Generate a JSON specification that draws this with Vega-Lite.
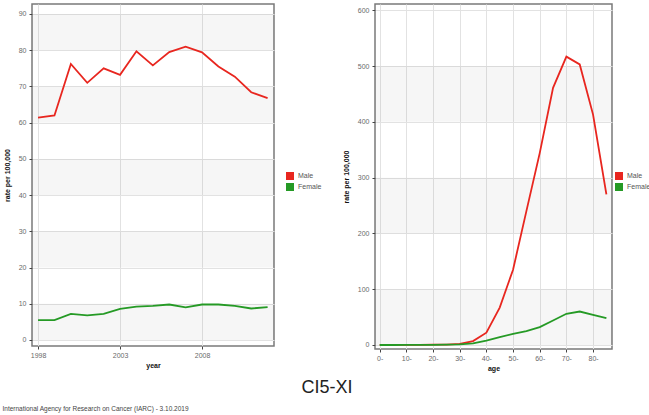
{
  "$schema": "https://vega.github.io/schema/vega-lite/v6.json",
  "padding": {"left": 2, "top": 3, "right": 0, "bottom": 0},
  "background": "white",
  "datasets": {
    "trend": [
      {"year": 1998, "sex": "Male", "rate": 61.4}, {"year": 1999, "sex": "Male", "rate": 62.0},
      {"year": 2000, "sex": "Male", "rate": 76.2}, {"year": 2001, "sex": "Male", "rate": 71.0},
      {"year": 2002, "sex": "Male", "rate": 75.0}, {"year": 2003, "sex": "Male", "rate": 73.2},
      {"year": 2004, "sex": "Male", "rate": 79.7}, {"year": 2005, "sex": "Male", "rate": 75.8},
      {"year": 2006, "sex": "Male", "rate": 79.5}, {"year": 2007, "sex": "Male", "rate": 81.0},
      {"year": 2008, "sex": "Male", "rate": 79.4}, {"year": 2009, "sex": "Male", "rate": 75.5},
      {"year": 2010, "sex": "Male", "rate": 72.7}, {"year": 2011, "sex": "Male", "rate": 68.4},
      {"year": 2012, "sex": "Male", "rate": 66.8},
      {"year": 1998, "sex": "Female", "rate": 5.5}, {"year": 1999, "sex": "Female", "rate": 5.5},
      {"year": 2000, "sex": "Female", "rate": 7.2}, {"year": 2001, "sex": "Female", "rate": 6.8},
      {"year": 2002, "sex": "Female", "rate": 7.2}, {"year": 2003, "sex": "Female", "rate": 8.6},
      {"year": 2004, "sex": "Female", "rate": 9.2}, {"year": 2005, "sex": "Female", "rate": 9.4},
      {"year": 2006, "sex": "Female", "rate": 9.8}, {"year": 2007, "sex": "Female", "rate": 9.0},
      {"year": 2008, "sex": "Female", "rate": 9.8}, {"year": 2009, "sex": "Female", "rate": 9.8},
      {"year": 2010, "sex": "Female", "rate": 9.4}, {"year": 2011, "sex": "Female", "rate": 8.7},
      {"year": 2012, "sex": "Female", "rate": 9.1}
    ],
    "byage": [
      {"age": 0, "sex": "Male", "rate": 0.1}, {"age": 5, "sex": "Male", "rate": 0.1},
      {"age": 10, "sex": "Male", "rate": 0.2}, {"age": 15, "sex": "Male", "rate": 0.3},
      {"age": 20, "sex": "Male", "rate": 0.5}, {"age": 25, "sex": "Male", "rate": 0.8},
      {"age": 30, "sex": "Male", "rate": 2}, {"age": 35, "sex": "Male", "rate": 7},
      {"age": 40, "sex": "Male", "rate": 22}, {"age": 45, "sex": "Male", "rate": 67},
      {"age": 50, "sex": "Male", "rate": 135}, {"age": 55, "sex": "Male", "rate": 240},
      {"age": 60, "sex": "Male", "rate": 344}, {"age": 65, "sex": "Male", "rate": 461},
      {"age": 70, "sex": "Male", "rate": 517}, {"age": 75, "sex": "Male", "rate": 503},
      {"age": 80, "sex": "Male", "rate": 413}, {"age": 85, "sex": "Male", "rate": 270},
      {"age": 0, "sex": "Female", "rate": 0}, {"age": 5, "sex": "Female", "rate": 0},
      {"age": 10, "sex": "Female", "rate": 0.1}, {"age": 15, "sex": "Female", "rate": 0.2},
      {"age": 20, "sex": "Female", "rate": 0.3}, {"age": 25, "sex": "Female", "rate": 0.5},
      {"age": 30, "sex": "Female", "rate": 1}, {"age": 35, "sex": "Female", "rate": 3},
      {"age": 40, "sex": "Female", "rate": 8}, {"age": 45, "sex": "Female", "rate": 14},
      {"age": 50, "sex": "Female", "rate": 20}, {"age": 55, "sex": "Female", "rate": 25},
      {"age": 60, "sex": "Female", "rate": 32}, {"age": 65, "sex": "Female", "rate": 44},
      {"age": 70, "sex": "Female", "rate": 56}, {"age": 75, "sex": "Female", "rate": 60},
      {"age": 80, "sex": "Female", "rate": 54}, {"age": 85, "sex": "Female", "rate": 48}
    ],
    "bandsL": [
      {"lo": 0, "hi": 10}, {"lo": 20, "hi": 30}, {"lo": 40, "hi": 50}, {"lo": 60, "hi": 70}, {"lo": 80, "hi": 90}
    ],
    "bandsR": [
      {"lo": 0, "hi": 100}, {"lo": 200, "hi": 300}, {"lo": 400, "hi": 500}
    ]
  },
  "title": {
    "text": "International Agency for Research on Cancer (IARC) - 3.10.2019",
    "orient": "bottom", "anchor": "start", "fontSize": 6.5, "fontWeight": "normal",
    "font": "Liberation Sans", "color": "#444", "offset": 9
  },
  "vconcat": [
    {
      "title": {
        "text": "CI5-XI", "orient": "bottom", "anchor": "middle", "fontSize": 18,
        "fontWeight": "normal", "font": "Liberation Sans", "color": "#222", "offset": 7
      },
      "hconcat": [
        {
          "width": 242, "height": 342,
          "layer": [
            {
              "data": {"name": "bandsL"},
              "mark": {"type": "rect", "fill": "#000", "fillOpacity": 0.035},
              "encoding": {
                "y": {"field": "lo", "type": "quantitative", "title": "rate per 100,000",
                      "scale": {"domain": [-1.66, 92.76], "nice": false, "zero": false},
                      "axis": {"values": [0, 10, 20, 30, 40, 50, 60, 70, 80, 90]}},
                "y2": {"field": "hi"}
              }
            },
            {
              "data": {"name": "trend"},
              "mark": {"type": "line", "strokeWidth": 1.8},
              "encoding": {
                "x": {"field": "year", "type": "quantitative", "title": "year",
                      "scale": {"domain": [1997.63, 2012.39], "nice": false, "zero": false},
                      "axis": {"values": [1998, 2003, 2008], "format": "d"}},
                "y": {"field": "rate", "type": "quantitative", "title": "rate per 100,000",
                      "axis": {"values": [0, 10, 20, 30, 40, 50, 60, 70, 80, 90]}},
                "color": {"field": "sex", "type": "nominal",
                          "scale": {"domain": ["Male", "Female"], "range": ["#e8261f", "#259a25"]},
                          "legend": {"title": null, "orient": "none", "legendX": 254, "legendY": 168,
                                     "encode": {"symbols": {"update": {"fill": {"scale": "color", "field": "value"}}}}}}
              }
            }
          ]
        },
        {
          "width": 237, "height": 345,
          "layer": [
            {
              "data": {"name": "bandsR"},
              "mark": {"type": "rect", "fill": "#000", "fillOpacity": 0.035},
              "encoding": {
                "y": {"field": "lo", "type": "quantitative", "title": "rate per 100,000",
                      "scale": {"domain": [-7.2, 611.3], "nice": false, "zero": false},
                      "axis": {"values": [0, 100, 200, 300, 400, 500, 600]}},
                "y2": {"field": "hi"}
              }
            },
            {
              "data": {"name": "byage"},
              "mark": {"type": "line", "strokeWidth": 1.8},
              "encoding": {
                "x": {"field": "age", "type": "quantitative", "title": "age",
                      "scale": {"domain": [-1.76, 87.1], "nice": false, "zero": false},
                      "axis": {"values": [0, 10, 20, 30, 40, 50, 60, 70, 80], "labelExpr": "datum.value + '-'"}},
                "y": {"field": "rate", "type": "quantitative", "title": "rate per 100,000",
                      "axis": {"values": [0, 100, 200, 300, 400, 500, 600]}},
                "color": {"field": "sex", "type": "nominal",
                          "scale": {"domain": ["Male", "Female"], "range": ["#e8261f", "#259a25"]},
                          "legend": {"title": null, "orient": "none", "legendX": 240, "legendY": 168,
                                     "encode": {"symbols": {"update": {"fill": {"scale": "color", "field": "value"}}}}}}
              }
            }
          ]
        }
      ],
      "spacing": 101,
      "bounds": "flush",
      "align": "none",
      "resolve": {"legend": {"color": "independent"}}
    }
  ],
  "config": {
    "view": {"stroke": "#7a7a7a", "strokeWidth": 1.5},
    "axis": {
      "domain": false, "labelFontSize": 7, "labelColor": "#6a6a6a", "labelFont": "Liberation Sans",
      "labelOverlap": false, "labelBound": false, "labelFlush": false,
      "tickSize": 3, "tickColor": "#444", "tickWidth": 1,
      "titleFontSize": 7, "titleFontWeight": "bold", "titleColor": "#111", "titleFont": "Liberation Sans",
      "gridColor": "#e2e2e2", "gridWidth": 1
    },
    "axisX": {"labelPadding": 2, "titlePadding": 3},
    "axisY": {"labelPadding": 3, "titlePadding": 8},
    "legend": {
      "labelFontSize": 7, "labelColor": "#555", "labelFont": "Liberation Sans",
      "symbolType": "square", "symbolSize": 64, "symbolStrokeWidth": 0,
      "rowPadding": 3, "padding": 0
    }
  }
}
